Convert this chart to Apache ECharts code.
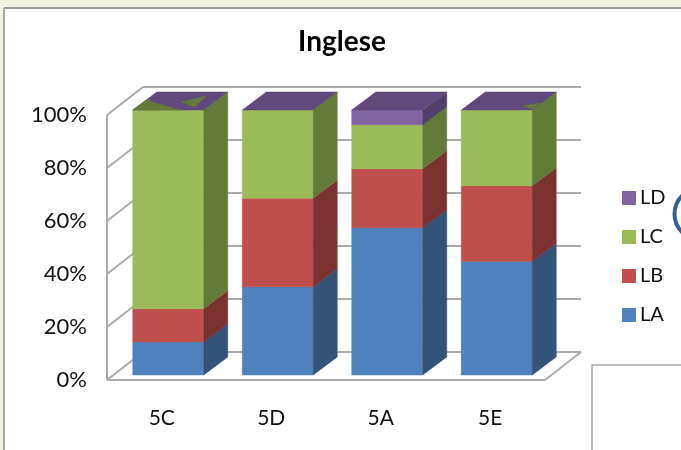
<!DOCTYPE html>
<html><head><meta charset="utf-8">
<style>html,body{margin:0;padding:0;background:#fff}#c{width:681px;height:450px}</style>
<script src="https://cdn.jsdelivr.net/npm/echarts@6/dist/echarts.min.js"></script>
</head><body><div id="c"></div>
<script>
const title = 'Inglese';
const categories = ['5C','5D','5A','5E'];
const tickValues = [0,20,40,60,80,100];
const LA = [12.5,33.3,55.6,42.9];
const LB = [12.5,33.4,22.2,28.5];
const LC = [75,33.3,16.6,28.6];
const LD = [0,0,5.6,0];

const seriesList = [
  {name:'LA',data:LA,front:'#4F81BD',side:'#335379'},
  {name:'LB',data:LB,front:'#C0504D',side:'#7B3331'},
  {name:'LC',data:LC,front:'#9BBB59',side:'#647A39'},
  {name:'LD',data:LD,front:'#8064A2',side:'#533F6C',top:'#604A7B'}
];
const dx=24, dy=-18, wallDx=36, wallDy=-28, barShift=6.5, barLift=-5, barW=71, wallC='#ABABAB';

function poly(pts,fill){return {type:'polygon',shape:{points:pts},style:{fill:fill,stroke:fill,lineWidth:0.5}};}
function line(a,b){return {type:'line',shape:{x1:a[0],y1:a[1],x2:b[0],y2:b[1]},style:{stroke:wallC,lineWidth:2}};}

function wallItem(params,api){
  const v=api.value(0);
  const r=params.coordSys;
  const y=api.coord([0,v])[1];
  const xL=r.x, xR=r.x+r.width;
  const kids=[line([xL,y],[xL+wallDx,y+wallDy]),line([xL+wallDx,y+wallDy],[xR+wallDx,y+wallDy])];
  if(v===0){kids.push(line([xL,y],[xR,y]),line([xR,y],[xR+wallDx,y+wallDy]));}
  if(v===tickValues[tickValues.length-1]){kids.push(line([xL,y],[xL,api.coord([0,0])[1]]));}
  return {type:'group',children:kids};
}

function barItem(si){
  return function(params,api){
    const i=api.value(0);
    let base=0; for(let k=0;k<si;k++) base+=seriesList[k].data[i];
    const s=seriesList[si], top=base+s.data[i];
    const c0=api.coord([i,base]), c1=api.coord([i,top]);
    const xl=c0[0]+barShift-barW/2, xr=xl+barW, yb=c0[1]+barLift, yt=c1[1]+barLift;
    const kids=[];
    if(s.data[i]>0){
      kids.push(poly([[xl,yb],[xr,yb],[xr,yt],[xl,yt]],s.front));
      kids.push(poly([[xr,yb],[xr+dx,yb+dy],[xr+dx,yt+dy],[xr,yt]],s.side));
    }
    if(si===seriesList.length-1){
      kids.push(poly([[xl,yt],[xr,yt],[xr+dx,yt+dy],[xl+dx,yt+dy]],s.top));
      if(i===0){ // green showing through the top of the first column
        kids.push(poly([[xl,yt],[xl+15,yt-11],[xl+19,yt-8],[xl+47,yt]],seriesList[2].side));
        kids.push(poly([[xl+49,yt-8],[xl+73,yt-14],[xl+62,yt-3]],seriesList[2].side));
      }
      if(i===3){
        kids.push(poly([[xr-9,yt-4],[xr+8,yt-7],[xr,yt-1]],seriesList[2].side));
      }
    }
    return {type:'group',children:kids};
  };
}

const chart=echarts.init(document.getElementById('c'),null,{renderer:'canvas'});
const fontFam='Lato, "Open Sans", sans-serif';
chart.setOption({
  animation:false,
  backgroundColor:'#ffffff',
  title:{text:title,left:337,top:23,textAlign:'center',textStyle:{fontFamily:fontFam,fontWeight:'bold',fontSize:28,color:'#000'}},
  legend:{
    orient:'vertical',left:617,top:183,itemWidth:14,itemHeight:14,itemGap:19,
    data:['LD','LC','LB','LA'],icon:'rect',selectedMode:false,
    textStyle:{fontFamily:fontFam,fontSize:20,color:'#111',padding:[0,0,0,-1]}
  },
  grid:{left:107,top:115,width:438,height:265},
  xAxis:{type:'category',data:categories,axisLine:{show:false},axisTick:{show:false},
    axisLabel:{fontFamily:fontFam,fontSize:21,color:'#111',margin:28}},
  yAxis:{type:'value',min:0,max:100,interval:20,axisLine:{show:false},axisTick:{show:false},splitLine:{show:false},
    axisLabel:{formatter:'{value}%',fontFamily:fontFam,fontSize:22,color:'#111',margin:20,padding:[2,0,0,0]}},
  graphic:[
    {type:'rect',z:-1,shape:{x:0,y:0,width:681,height:7},style:{fill:'#F1F2E4'}},
    {type:'rect',z:-1,shape:{x:0,y:0,width:3,height:450},style:{fill:'#F1F2E4'}},
    {type:'line',shape:{x1:4,y1:8,x2:681,y2:8},style:{stroke:'#9A9A9A',lineWidth:2}},
    {type:'line',shape:{x1:4,y1:8,x2:4,y2:450},style:{stroke:'#A8A8A8',lineWidth:2}},
    {type:'polyline',shape:{points:[[592,450],[592,365],[681,365]]},style:{stroke:'#A6A6A6',fill:'none',lineWidth:1.5}},
    {type:'circle',shape:{cx:700,cy:214,r:25.5},style:{fill:'#fff',stroke:'#376092',lineWidth:4}}
  ],
  series:[
    {type:'custom',name:'walls',silent:true,z:1,renderItem:wallItem,data:tickValues.map(v=>[v]),
     encode:{y:0},clip:false,tooltip:{show:false}},
    ...seriesList.map((s,si)=>({
      type:'custom',name:s.name,z:2+si,clip:false,renderItem:barItem(si),
      itemStyle:{color:s.front},
      data:categories.map((c,i)=>[i,s.data[i]]),
      encode:{x:0,y:1}
    }))
  ]
});
</script></body></html>
